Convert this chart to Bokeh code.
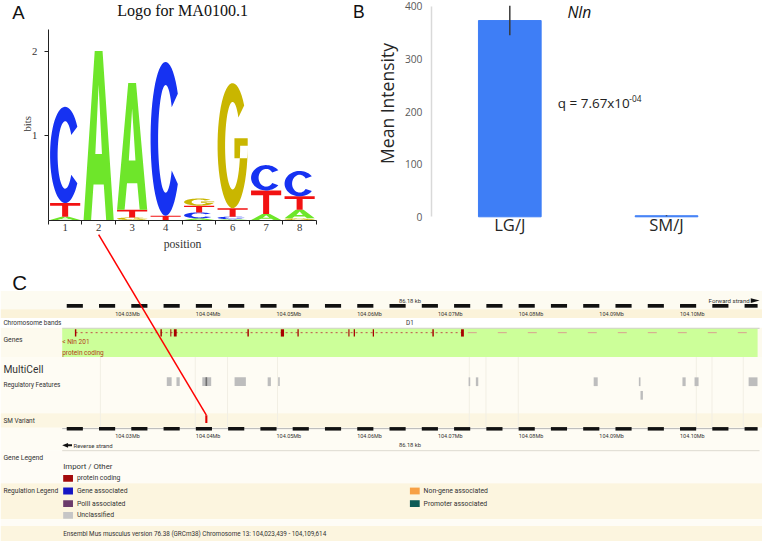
import numpy as np
from bokeh.plotting import figure
from bokeh.models import Range1d, LinearAxis, FixedTicker
from bokeh.core.properties import value
from bokeh.embed import file_html
from bokeh.resources import INLINE

# ======================= DATA =======================
# Panel A - sequence logo MA0100.1 (bits per base and position)
logo_title = "Logo for MA0100.1"
logo_positions = [1, 2, 3, 4, 5, 6, 7, 8]
bits_A = [0.04, 2.00, 1.50, 0.00, 0.02, 0.01, 0.07, 0.10]
bits_C = [1.14, 0.00, 0.00, 1.82, 0.07, 0.03, 0.30, 0.30]
bits_G = [0.00, 0.00, 0.03, 0.00, 0.085, 1.48, 0.00, 0.02]
bits_T = [0.16, 0.00, 0.09, 0.05, 0.08, 0.10, 0.28, 0.16]
bits_ticks = [1, 2]

# Panel B - expression
gene_name = "Nln"
strains = ["LG/J", "SM/J"]
mean_intensity = [373, 2]
intensity_err = [28, 1]
intensity_ticks = [0, 100, 200, 300, 400]
q_text, q_exp = "q = 7.67x10", "-04"

# Panel C - Ensembl region view (Mb)
region_start_bp, region_end_bp = 104023439, 104109614
mb_ticks = [104.03, 104.04, 104.05, 104.06, 104.07, 104.08, 104.09, 104.10]
exon_pos = [104.0251, 104.0357, 104.0369, 104.03745, 104.04648, 104.05073,
            104.05267, 104.05897, 104.05964, 104.06200, 104.06940, 104.07304]
exon_len = [0.00018, 0.00018, 0.00012, 0.00035, 0.00018, 0.00040,
            0.00016, 0.00014, 0.00016, 0.00016, 0.00018, 0.00035]
transcript_span = (104.0251, 104.0732)
downstream_span = (104.0737, 104.1093)
reg_start = [104.0364, 104.0376, 104.0408, 104.0448, 104.0489, 104.0502,
             104.0738, 104.0747, 104.0893, 104.0949, 104.0951, 104.1003, 104.1018, 104.1085]
reg_end = [104.0370, 104.0380, 104.0419, 104.0462, 104.0493, 104.0504,
           104.0740, 104.0750, 104.0898, 104.0951, 104.0954, 104.1007, 104.1023, 104.1096]
reg_row = [0, 0, 0, 0, 0, 0, 0, 0, 0, 0, 1, 0, 0, 0]
reg_grid = [104.02817, 104.03993, 104.04393, 104.05012, 104.07389,
            104.07595, 104.07995, 104.10202, 104.10396, 104.10784]
variant_pos = 104.0413
gene_legend = [("protein coding", "#a30a0a")]
reg_legend = [("Gene associated", "#1515c4"), ("PolII associated", "#6b3b6b"),
              ("Unclassified", "#c6c6c6"), ("Non-gene associated", "#f7a044"),
              ("Promoter associated", "#0d5b56")]

# ======================= SETUP =======================
region_start = region_start_bp / 1e6
region_end = region_end_bp / 1e6
SERIF = "Liberation Serif"
SANS = "Open Sans"
ENS = "Roboto"
FS = 0.975  # the 762x541 frame shows the 778x557 layout
LETTER_COLORS = {"A": "#6ee62a", "C": "#1632f2", "G": "#c9b600", "T": "#f21212"}

PX = (0, 778)    # layout coordinates covered by the frame (x)
PY = (557, 0)    # layout coordinates covered by the frame (y, bottom->top)


def span(v0, p0, v1, p1, lo, hi):
    s = (v1 - v0) / (p1 - p0)
    return Range1d(start=v0 + (lo - p0) * s, end=v0 + (hi - p0) * s)


A_X = (1, 66.0, 2, 100.2)
A_Y = (0, 226.0, 1, 139.0)
B_X = (0, 520.0, 1, 680.0)
B_Y = (0, 222.7, 400, 6.0)
C_X = (region_start, 63.0, region_end, 773.0)


def to_px(v, m):
    v0, p0, v1, p1 = m
    return p0 + (v - v0) * (p1 - p0) / (v1 - v0)


def fs(size):
    return f"{size * FS:.2f}px"


p = figure(width=762, height=541, x_range=Range1d(*PX), y_range=Range1d(*PY),
           output_backend="svg", toolbar_location=None, x_axis_type=None, y_axis_type=None,
           min_border=0, outline_line_color=None)
p.extra_x_ranges = {"ax": span(*A_X, *PX), "bx": span(*B_X, *PX), "cx": span(*C_X, *PX)}
p.extra_y_ranges = {"ay": span(*A_Y, *PY), "by": span(*B_Y, *PY)}


def txt(x, y, s, size, font=SANS, color="#222222", align="left", style="normal",
        xr="default", yr="default", angle=0.0):
    p.text(x=[x], y=[y], text=[s], text_font=value(font), text_font_size=fs(size),
           text_color=color, text_align=align, text_baseline="middle", text_font_style=style,
           angle=angle, x_range_name=xr, y_range_name=yr)


# ======================= PANEL A =======================
def ring_arc(t0, t1, n=48, ro=(0.5, 0.5), ri=(0.25, 0.35)):
    t = np.radians(np.linspace(t0, t1, n))
    xo = 0.5 + ro[0] * np.cos(t)
    yo = 0.5 + ro[1] * np.sin(t)
    xi = 0.5 + ri[0] * np.cos(t[::-1])
    yi = 0.5 + ri[1] * np.sin(t[::-1])
    return (np.r_[xo, xi], np.r_[yo, yi])


SHAPES = {
    "C": [[ring_arc(36, 324)]],
    "G": [[ring_arc(40, 360)],
          [(np.array([0.56, 1.0, 1.0, 0.56]), np.array([0.40, 0.40, 0.56, 0.56]))]],
    "A": [[(np.array([0, 0.37, 0.63, 1, 0.75, 0.67, 0.33, 0.25]),
            np.array([0, 1, 1, 0, 0, 0.21, 0.21, 0])),
           (np.array([0.39, 0.61, 0.5]), np.array([0.39, 0.39, 0.80]))]],
    "T": [[(np.array([0, 1, 1, 0.6, 0.6, 0.4, 0.4, 0]),
            np.array([1, 1, 0.8, 0.8, 0, 0, 0.8, 0.8]))]],
}

xs_all, ys_all, cols = [], [], []
for i, pos in enumerate(logo_positions):
    heights = {"A": bits_A[i], "C": bits_C[i], "G": bits_G[i], "T": bits_T[i]}
    base = 0.0
    for L, h in sorted(heights.items(), key=lambda kv: kv[1]):
        if h <= 0:
            continue
        px_, py_ = [], []
        for poly in SHAPES[L]:
            rx, ry = [], []
            for ux, uy in poly:
                rx.append((pos - 0.45 + 0.9 * np.asarray(ux, float)).tolist())
                ry.append((base + h * np.asarray(uy, float)).tolist())
            px_.append(rx)
            py_.append(ry)
        xs_all.append(px_)
        ys_all.append(py_)
        cols.append(LETTER_COLORS[L])
        base += h

p.multi_polygons(xs=xs_all, ys=ys_all, fill_color=cols, line_color=None,
                 x_range_name="ax", y_range_name="ay")

ya = LinearAxis(x_range_name="ax", y_range_name="ay", fixed_location=0.5, bounds=(0, 2.25),
                ticker=FixedTicker(ticks=bits_ticks, minor_ticks=[]),
                axis_line_color="#222222", major_tick_line_color="#222222",
                major_tick_in=0, major_tick_out=4, minor_tick_line_color=None,
                major_label_text_font=SERIF, major_label_text_font_size=fs(11),
                major_label_text_color="#333333", major_label_standoff=7)
p.add_layout(ya, "left")
txt(27, 127, "bits", 11, font=SERIF, color="#333333", align="center", angle=np.pi / 2)

xa = LinearAxis(x_range_name="ax", y_range_name="ay", fixed_location=0, bounds=(0.5, 8.5),
                ticker=FixedTicker(ticks=logo_positions,
                                   minor_ticks=[k - 0.5 for k in logo_positions] + [8.5]),
                axis_line_color="#222222", major_tick_line_color=None, major_tick_in=0, major_tick_out=0,
                minor_tick_line_color="#222222", minor_tick_in=0, minor_tick_out=4,
                major_label_text_font=SERIF, major_label_text_font_size=fs(11),
                major_label_text_color="#333333", major_label_standoff=0,
                axis_label="position", axis_label_text_font=SERIF, axis_label_text_font_size=fs(12),
                axis_label_text_font_style="normal", axis_label_text_color="#333333",
                axis_label_standoff=3)
p.add_layout(xa, "below")

txt(12, 12, "A", 19, font="Liberation Sans", color="#111111")
txt(186, 10, logo_title, 16.5, font=SERIF, color="#111111", align="center")

# ======================= PANEL B =======================
bx = list(range(len(strains)))
p.vbar(x=bx, top=mean_intensity, width=0.4, bottom=0, fill_color="#3e7ef6", line_color="#3e7ef6",
       x_range_name="bx", y_range_name="by")
p.segment(x0=bx, x1=bx, y0=[m - e for m, e in zip(mean_intensity, intensity_err)],
          y1=[m + e for m, e in zip(mean_intensity, intensity_err)],
          line_color="#3a3a3a", line_width=1.5, x_range_name="bx", y_range_name="by")

yb = LinearAxis(x_range_name="bx", y_range_name="by", fixed_location=-0.5, bounds=(0, 400),
                ticker=FixedTicker(ticks=intensity_ticks, minor_ticks=[]),
                axis_line_color="#d9d9d9", axis_line_width=1.5, major_tick_line_color=None,
                major_tick_in=0, major_tick_out=0, minor_tick_line_color=None,
                major_label_text_font=SANS, major_label_text_font_size=fs(10.5),
                major_label_text_color="#595959", major_label_standoff=9)
p.add_layout(yb, "left")
txt(395, 106, "Mean Intensity", 18, font=SANS, color="#262626", align="center", angle=np.pi / 2)

p.text(x=bx, y=[231, 231], text=strains, text_font=value(SANS), text_font_size=fs(17),
       text_color="#262626", text_align="center", text_baseline="middle", x_range_name="bx")

txt(360, 12, "B", 18, font="Liberation Sans", color="#111111")
txt(591, 12, gene_name, 16, font=SANS, color="#111111", align="center", style="italic")
txt(569, 106, q_text, 13.8, font=SANS, color="#222222")
txt(642, 101, q_exp, 8.5, font=SANS, color="#222222")

# ======================= PANEL C =======================
bands = [(299, 318, "#fdfbf1"), (318, 327, "#fbf3da"), (327, 337, "#ffffff"),
         (337, 367, "#fdfaee"), (367, 425, "#fefcf4"), (425, 440, "#fcf6e2"),
         (440, 463, "#fefcf4"), (463, 497, "#fefcf6"), (497, 534, "#fcf5df"),
         (534, 541, "#fefcf6"), (541, 557, "#fcf5df")]
p.quad(left=[PX[0]] * len(bands), right=[PX[1]] * len(bands),
       top=[b[0] for b in bands], bottom=[b[1] for b in bands],
       fill_color=[b[2] for b in bands], line_color=None)
p.segment(x0=[63], x1=[775], y0=[337.5], y1=[337.5], line_color="#c8c8c8", line_width=1)
p.segment(x0=[63], x1=[775], y0=[463.5], y1=[463.5], line_color="#dedad0", line_width=1)

# faint column lines in the regulation / variant area
p.segment(x0=reg_grid, x1=reg_grid, y0=[367] * len(reg_grid), y1=[440] * len(reg_grid),
          line_color="#f2efe4", line_width=1, x_range_name="cx")

# genes track background
p.quad(left=[region_start], right=[region_end], top=[338], bottom=[367],
       fill_color="#ccff99", line_color=None, x_range_name="cx")

# rulers
dash_starts = np.arange(104.024, region_end, 0.004)
dash_ends = np.minimum(dash_starts + 0.002, region_end)
p.segment(x0=[region_start], x1=[region_end], y0=[440.8], y1=[440.8],
          line_color="#b5b5b5", line_width=1, x_range_name="cx")
for (t, b) in [(312.5, 316.3), (439.2, 442.8)]:
    p.quad(left=dash_starts, right=dash_ends, top=[t] * len(dash_starts), bottom=[b] * len(dash_starts),
           fill_color="#111111", line_color=None, x_range_name="cx")
for yy in [322.5, 448.3]:
    p.text(x=mb_ticks, y=[yy] * len(mb_ticks), text=[f"{t:.2f}Mb" for t in mb_ticks],
           text_font=value(ENS), text_font_size=fs(5.6), text_color="#333333",
           text_align="left", text_baseline="middle", x_range_name="cx")
mid = (region_start + region_end) / 2
kb = (region_end_bp - region_start_bp + 1) / 1000
txt(mid, 309, f"{kb:.2f} kb", 5.9, font=ENS, color="#333333", align="center", xr="cx")
txt(mid, 458, f"{kb:.2f} kb", 5.9, font=ENS, color="#333333", align="center", xr="cx")
txt(765, 309, "Forward strand", 6.3, font=ENS, color="#333333", align="right")
p.patch(x=[766, 775, 766], y=[306.5, 309, 311.5], fill_color="#111111", line_color=None)
p.patch(x=[63, 69, 69], y=[458, 455.5, 460.5], fill_color="#111111", line_color=None)
p.segment(x0=[68], x1=[73], y0=[458], y1=[458], line_color="#111111", line_width=2)
txt(74.5, 458, "Reverse strand", 6.1, font=ENS, color="#333333")

# chromosome band label
txt(mid, 332, "D1", 6.5, font=ENS, color="#333333", align="center", xr="cx")

# gene model
p.line(x=list(transcript_span), y=[342, 342], line_color="#c0504a", line_width=1,
       line_dash="2 3", x_range_name="cx")
p.line(x=list(downstream_span), y=[342, 342], line_color="#d9a090", line_width=1,
       line_dash="9 21", x_range_name="cx")
p.quad(left=[e - w / 2 for e, w in zip(exon_pos, exon_len)],
       right=[e + w / 2 for e, w in zip(exon_pos, exon_len)],
       top=[338.5] * len(exon_pos), bottom=[346] * len(exon_pos),
       fill_color="#a80000", line_color=None, x_range_name="cx")
txt(region_start, 352, "< Nln 201", 6.7, font=ENS, color="#b3411a", xr="cx")
txt(region_start, 363, "protein coding", 6.7, font=ENS, color="#b3411a", xr="cx")

# regulatory features
row_top = {0: 388, 1: 402}
p.quad(left=reg_start, right=reg_end, top=[row_top[r] for r in reg_row],
       bottom=[row_top[r] + 9 for r in reg_row],
       fill_color="#bdbdbd", line_color=None, x_range_name="cx")
p.quad(left=[variant_pos - 0.0001], right=[variant_pos + 0.0001], top=[388], bottom=[397],
       fill_color="#6e6e6e", line_color=None, x_range_name="cx")

# SM variant
p.quad(left=[variant_pos - 0.00013], right=[variant_pos + 0.00013], top=[427], bottom=[435],
       fill_color="#e00000", line_color=None, x_range_name="cx")

# track labels
for s, yy, sz in [("Chromosome bands", 332, 6.6), ("Genes", 350, 7), ("MultiCell", 380, 10.5),
                  ("Regulatory Features", 396, 6.6), ("SM Variant", 433, 6.6),
                  ("Gene Legend", 471, 7), ("Regulation Legend", 505, 6.8)]:
    txt(3, yy, s, sz, font=ENS, color="#333333")

# legends
txt(64, 480, "Import / Other", 8, font=ENS, color="#333333")
leg_items = [(gene_legend[0], 64, 492)] + [
    (reg_legend[0], 64, 505), (reg_legend[1], 64, 518), (reg_legend[2], 64, 530),
    (reg_legend[3], 418, 505), (reg_legend[4], 418, 518)]
p.quad(left=[it[1] for it in leg_items], right=[it[1] + 10 for it in leg_items],
       top=[it[2] - 3.5 for it in leg_items], bottom=[it[2] + 3.5 for it in leg_items],
       fill_color=[it[0][1] for it in leg_items], line_color=None)
for (lab, _), xx, yy in leg_items:
    txt(xx + 14, yy, lab, 7, font=ENS, color="#333333")

txt(64, 549, f"Ensembl Mus musculus version 76.38 (GRCm38) Chromosome 13: "
             f"{region_start_bp:,} - {region_end_bp:,}", 6.5, font=ENS, color="#333333")

txt(12, 290, "C", 21, font="Liberation Sans", color="#111111")

# connecting red line (logo position 2 -> SM variant)
p.line(x=[to_px(2, A_X), to_px(variant_pos, C_X)], y=[241, 427], line_color="#ff0000", line_width=1.5)

open("out.html", "w").write(file_html(p, INLINE))
